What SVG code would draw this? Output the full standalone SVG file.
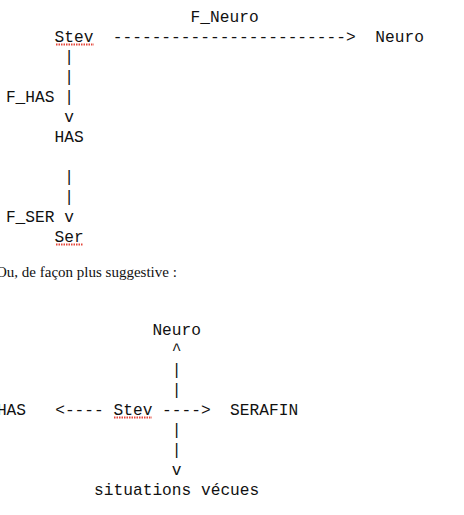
<svg xmlns="http://www.w3.org/2000/svg" width="464" height="515" viewBox="0 0 464 515">
<style>
.m{font-family:"Liberation Mono","Courier New",monospace;font-size:16.2px;fill:#111}
.t{font-family:"Liberation Serif","Times New Roman",serif;font-size:15px;fill:#111}
.sq{stroke:#e3463b;stroke-width:2;stroke-dasharray:1.5 1;fill:none}
</style>
<rect width="464" height="515" fill="#fff"/>
<!-- top diagram -->
<g id="n-stev-top"><text class="m" x="54.5" y="42">Stev</text><line class="sq" x1="56" y1="44.5" x2="94" y2="44.5"/></g>
<g id="n-neuro-top"><text class="m" x="375.3" y="42">Neuro</text></g>
<g id="n-has-top"><text class="m" x="54.5" y="142">HAS</text></g>
<g id="n-ser-top"><text class="m" x="54.5" y="242">Ser</text><line class="sq" x1="56" y1="244.5" x2="83" y2="244.5"/></g>
<g id="connectors-top">
<text class="m" x="190.6" y="22">F_Neuro</text>
<text class="m" x="112.8" y="42">------------------------&gt;</text>
<text class="m" x="64.2" y="62">|</text>
<text class="m" x="64.2" y="82">|</text>
<text class="m" x="5.9" y="102">F_HAS</text>
<text class="m" x="64.2" y="102">|</text>
<text class="m" x="64.2" y="122">v</text>
<text class="m" x="64.2" y="182">|</text>
<text class="m" x="64.2" y="202">|</text>
<text class="m" x="5.9" y="222">F_SER</text>
<text class="m" x="64.2" y="222">v</text>
</g>
<text class="t" x="-4" y="277">Ou, de façon plus suggestive :</text>
<!-- bottom diagram -->
<g id="n-neuro-bottom"><text class="m" x="152.4" y="335">Neuro</text></g>
<g id="n-has-bottom"><text class="m" x="-3.1" y="415">HAS</text></g>
<g id="n-stev-bottom"><text class="m" x="113.5" y="415">Stev</text><line class="sq" x1="114" y1="417.5" x2="152" y2="417.5"/></g>
<g id="n-serafin"><text class="m" x="230.1" y="415">SERAFIN</text></g>
<g id="n-situations"><text class="m" x="94.1" y="495">situations vécues</text></g>
<g id="connectors-bottom">
<text class="m" x="171.8" y="355">^</text>
<text class="m" x="171.8" y="375">|</text>
<text class="m" x="171.8" y="395">|</text>
<text class="m" x="55.2" y="415">&lt;----</text>
<text class="m" x="162.1" y="415">----&gt;</text>
<text class="m" x="171.8" y="435">|</text>
<text class="m" x="171.8" y="455">|</text>
<text class="m" x="171.8" y="475">v</text>
</g>
</svg>
